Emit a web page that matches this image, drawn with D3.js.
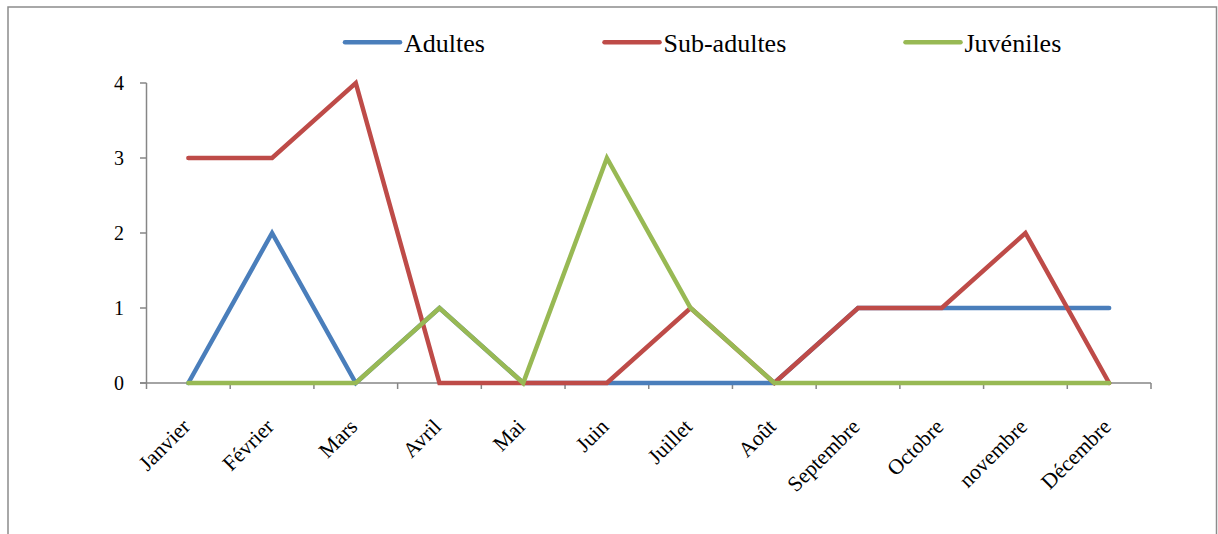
<!DOCTYPE html>
<html><head><meta charset="utf-8">
<script src="https://cdn.jsdelivr.net/npm/d3@7"></script>
<style>html,body{margin:0;padding:0;background:#fff;}svg{display:block;}</style>
</head><body>
<svg id="chart" width="1218" height="534"></svg>
<script>
const months = ["Janvier","Février","Mars","Avril","Mai","Juin","Juillet","Août","Septembre","Octobre","novembre","Décembre"];
const adultes    = [0,2,0,1,0,0,0,0,1,1,1,1];
const subAdultes = [3,3,4,0,0,0,1,0,1,1,2,0];
const juveniles  = [0,0,0,1,0,3,1,0,0,0,0,0];
const seriesNames = ["Adultes","Sub-adultes","Juvéniles"];
const seriesColors = ["#4a7ebb","#be4b48","#98b954"];
const yTicks = [0,1,2,3,4];

const svg = d3.select("#chart");
const font = "Liberation Serif, Times New Roman, serif";
const axisColor = "#868686";

// outer border
svg.append("rect").attr("x",8).attr("y",7).attr("width",1208.5).attr("height",540)
  .attr("fill","none").attr("stroke","#8c8c8c").attr("stroke-width",1.5);

const x = d3.scaleBand().domain(months).range([146.5,1151]);
const y = d3.scaleLinear().domain([0,4]).range([383,83]);

// y axis
const gy = svg.append("g");
gy.append("line").attr("x1",146.5).attr("x2",146.5).attr("y1",y(4)).attr("y2",y(0))
  .attr("stroke",axisColor).attr("stroke-width",1.5);
gy.selectAll("line.t").data(yTicks).join("line").attr("class","t")
  .attr("x1",140).attr("x2",146.5).attr("y1",d=>y(d)).attr("y2",d=>y(d))
  .attr("stroke",axisColor).attr("stroke-width",1.5);
gy.selectAll("text").data(yTicks).join("text")
  .attr("x",124).attr("y",d=>y(d)).attr("dy","0.35em").attr("text-anchor","end")
  .attr("font-family",font).attr("font-size",20).attr("fill","#000").text(d=>d);

// x axis
const gx = svg.append("g");
gx.append("line").attr("x1",140).attr("x2",1151).attr("y1",y(0)).attr("y2",y(0))
  .attr("stroke",axisColor).attr("stroke-width",1.5);
const bounds = months.map(m=>x(m)).concat([x.range()[1]]);
gx.selectAll("line.t").data(bounds).join("line").attr("class","t")
  .attr("x1",d=>d).attr("x2",d=>d).attr("y1",y(0)).attr("y2",y(0)+6)
  .attr("stroke",axisColor).attr("stroke-width",1.5);
gx.selectAll("text").data(months).join("text")
  .attr("transform",d=>`translate(${x(d)+x.bandwidth()/2+3},${y(0)+45}) rotate(-45)`)
  .attr("text-anchor","end").attr("font-family",font).attr("font-size",21.5).attr("fill","#000")
  .text(d=>d);

// lines
const data = [adultes, subAdultes, juveniles];
const line = d3.line().x((d,i)=>x(months[i])+x.bandwidth()/2).y(d=>y(d));
svg.selectAll("path.s").data(data).join("path").attr("class","s")
  .attr("d",line).attr("fill","none")
  .attr("stroke",(d,i)=>seriesColors[i]).attr("stroke-width",4.5)
  .attr("stroke-linecap","round").attr("stroke-linejoin","miter");

// legend
const legX = [345, 604.5, 905.5];
const lg = svg.selectAll("g.leg").data(seriesNames).join("g").attr("class","leg");
lg.append("line").attr("x1",(d,i)=>legX[i]).attr("x2",(d,i)=>legX[i]+55)
  .attr("y1",42.3).attr("y2",42.3).attr("stroke",(d,i)=>seriesColors[i])
  .attr("stroke-width",4.5).attr("stroke-linecap","round");
lg.append("text").attr("x",(d,i)=>legX[i]+59).attr("y",51.7)
  .attr("font-family",font).attr("font-size",26).attr("fill","#000").text(d=>d);
</script>
</body></html>
